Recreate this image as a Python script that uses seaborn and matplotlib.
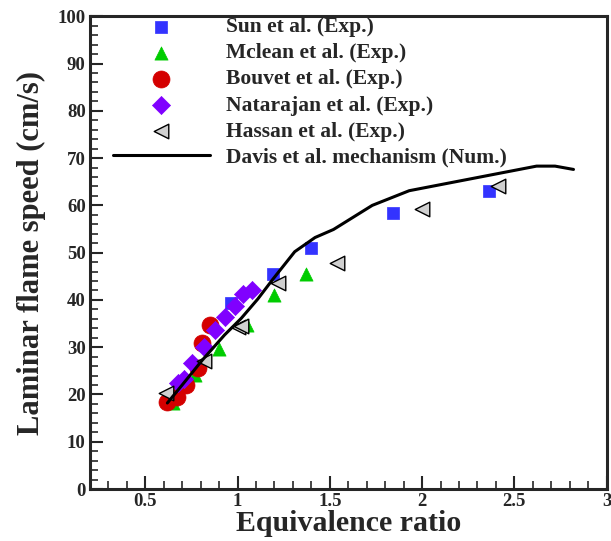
import numpy as np
import pandas as pd
import seaborn as sns
import matplotlib.pyplot as plt
from matplotlib.ticker import MultipleLocator

# Dados
sun_x = [0.965, 1.19, 1.40, 1.84, 2.36]
sun_y = [39.4, 45.5, 51.0, 58.3, 63.1]

mclean_x = [0.65, 0.77, 0.90, 1.05, 1.20, 1.37]
mclean_y = [18.2, 24.1, 29.7, 34.7, 41.0, 45.5]

bouvet_x = [0.62, 0.67, 0.72, 0.785, 0.81, 0.85]
bouvet_y = [18.5, 19.5, 22.0, 25.5, 30.8, 34.7]

nata_x = [0.68, 0.71, 0.755, 0.82, 0.88, 0.93, 0.985, 1.03, 1.08]
nata_y = [22.5, 23.3, 26.6, 30.1, 33.6, 36.3, 38.7, 41.3, 42.2]

hassan_x = [0.61, 0.82, 1.00, 1.02, 1.22, 1.54, 2.00, 2.41]
hassan_y = [20.4, 27.1, 34.3, 34.5, 43.5, 47.8, 59.2, 64.1]

davis_x = [0.62, 0.70, 0.81, 0.93, 1.02, 1.11, 1.19, 1.31, 1.42, 1.52, 1.73, 1.93, 2.62, 2.72, 2.82]
davis_y = [18.2, 22.0, 27.3, 32.6, 36.1, 40.2, 44.3, 50.2, 53.2, 54.9, 60.0, 63.1, 68.3, 68.3, 67.6]

sns.set_style('ticks')
plt.rcParams['font.family'] = ['Liberation Serif', 'DejaVu Serif']
plt.rcParams['font.weight'] = 'bold'

fig = plt.figure(figsize=(6.11, 5.41), dpi=100)
ax = fig.add_axes([0.147, 0.096, 0.846, 0.874])

sns.lineplot(x=davis_x, y=davis_y, ax=ax, color='black', linewidth=2.2,
             label='Davis et al. mechanism (Num.)', zorder=5)

sns.scatterplot(x=sun_x, y=sun_y, ax=ax, marker='s', s=75, color='#3333ff',
                edgecolor='#3333ff', linewidth=0.5, label='Sun et al. (Exp.)', zorder=3)
sns.scatterplot(x=mclean_x, y=mclean_y, ax=ax, marker='^', s=90, color='#00cc00',
                edgecolor='#00cc00', linewidth=0.5, label='Mclean et al. (Exp.)', zorder=3)
sns.scatterplot(x=bouvet_x, y=bouvet_y, ax=ax, marker='o', s=150, color='#d40000',
                edgecolor='#d40000', linewidth=0.5, label='Bouvet et al. (Exp.)', zorder=3)
sns.scatterplot(x=nata_x, y=nata_y, ax=ax, marker='D', s=85, color='#8000ff',
                edgecolor='#8000ff', linewidth=0.5, label='Natarajan et al. (Exp.)', zorder=4)
sns.scatterplot(x=hassan_x, y=hassan_y, ax=ax, marker='<', s=110, color='#d0d0d0',
                edgecolor='black', linewidth=1.0, label='Hassan et al. (Exp.)', zorder=4)

ax.set_xlim(0.2, 3.0)
ax.set_ylim(0, 100)
ax.xaxis.set_major_locator(MultipleLocator(0.5))
ax.xaxis.set_minor_locator(MultipleLocator(0.1))
ax.yaxis.set_major_locator(MultipleLocator(10))
ax.yaxis.set_minor_locator(MultipleLocator(2))
ax.set_xticks([0.5, 1, 1.5, 2, 2.5, 3])
ax.set_xticklabels(['0.5', '1', '1.5', '2', '2.5', '3'])

ax.tick_params(which='major', direction='in', length=9.5, width=1.5, labelsize=13.5, pad=3)
ax.tick_params(which='minor', direction='in', length=6, width=1.2)
for sp in ax.spines.values():
    sp.set_visible(True)
    sp.set_linewidth(2.2)

ax.set_xlabel('Equivalence ratio', fontsize=21.5, fontweight='bold', labelpad=0)
ax.set_ylabel('Laminar flame speed (cm/s)', fontsize=22, fontweight='bold', labelpad=8)

handles, labels = ax.get_legend_handles_labels()
order = [1, 2, 3, 4, 5, 0]
ax.legend([handles[i] for i in order], [labels[i] for i in order],
          loc='upper left', bbox_to_anchor=(0.0445, 0.998), frameon=False,
          handlelength=4.5, handletextpad=0.75, labelspacing=0.28,
          borderpad=0, borderaxespad=0,
          prop={'weight': 'bold', 'size': 15.5})

plt.savefig('out.png', dpi=100)
